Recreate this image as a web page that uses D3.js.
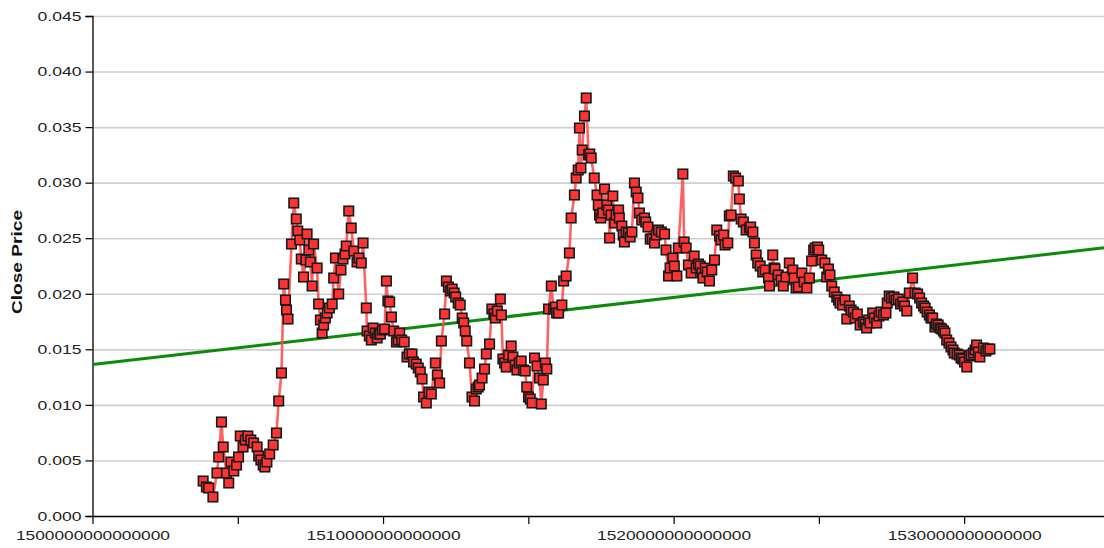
<!DOCTYPE html>
<html>
<head>
<meta charset="utf-8">
<script src="https://cdn.jsdelivr.net/npm/d3@7"></script>
<style>
  html, body { margin: 0; padding: 0; background: #fff; }
  svg { display: block; }
  text { font-family: "Liberation Sans", Arial, sans-serif; }
</style>
</head>
<body>
<svg id="chart" width="1104" height="548"></svg>
<script>
// ---- data ----
const startTime = 1503808000000000;      // first observation (microseconds)
const dayMicros = 86400000000;
const dayOffsets = [
0,1.3,2.2,3.9,5.5,6.2,7.3,8.0,9.3,10.2,11.1,12.2,13.3,14.1,14.8,15.9,16.8,17.8,19.0,20.1,
21.5,22.1,23.0,23.9,24.6,25.4,26.5,27.9,29.2,30.1,31.2,32.1,32.8,33.2,33.8,35.2,36.1,37.1,37.7,38.5,
39.1,40.0,40.9,41.4,42.1,42.7,43.4,44.0,45.4,46.0,46.7,47.4,48.0,48.7,49.4,50.3,51.4,52.0,52.7,54.0,
54.9,55.7,56.5,57.0,58.0,59.0,60.0,61.3,62.0,63.0,63.7,65.0,65.3,66.2,67.0,67.7,68.6,69.3,70.0,70.6,
71.4,72.3,73.0,73.6,74.3,75.0,75.9,77.0,77.7,78.3,79.1,80.1,81.2,82.1,83.2,83.8,84.9,85.7,86.5,87.2,
87.8,88.9,89.9,90.9,92.5,93.3,94.2,94.9,96.2,96.9,97.7,98.5,99.2,100.0,100.6,101.6,102.4,103.2,103.8,104.4,
105.0,106.1,107.1,108.1,108.8,109.6,110.1,111.1,112.1,112.8,114.1,115.0,115.8,116.4,117.2,118.4,118.8,119.4,120.1,120.7,
121.7,122.7,123.4,124.3,125.0,125.9,126.7,127.6,128.3,128.9,129.6,130.3,131.0,132.0,133.0,134.0,134.7,135.5,136.3,136.9,
137.6,138.7,139.6,140.3,140.8,141.6,142.9,143.6,144.6,145.9,146.6,147.9,148.6,149.4,149.9,150.5,151.0,151.9,152.6,153.5,
154.0,154.6,155.8,156.9,157.4,157.9,158.4,159.2,159.9,160.8,161.4,161.9,162.5,163.2,163.9,164.5,165.5,165.8,166.8,167.3,
167.8,168.5,169.4,170.1,170.8,171.8,172.5,173.2,173.8,174.7,175.8,176.3,177.2,178.1,178.9,179.8,180.5,181.4,182.5,183.8,
184.4,185.4,186.0,187.1,187.7,188.7,189.3,191.1,191.6,192.4,193.3,194.4,195.6,196.4,197.3,198.0,198.7,199.1,200.0,200.8,
201.7,202.6,203.7,204.6,205.7,206.3,207.3,207.9,209.0,209.6,210.3,211.2,212.1,213.2,213.6,214.3,215.2,216.3,217.6,218.1,
219.0,219.6,220.3,220.9,221.9,222.9,223.9,225.2,225.6,226.9,227.4,227.8,229.1,230.2,231.1,232.2,233.5,234.9,235.4,236.2,
237.1,238.5,239.4,240.5,241.5,242.4,243.2,243.8,244.7,245.2,246.4,247.7,248.4,249.1,249.7,250.4,251.4,252.4,253.1,253.7,
254.7,255.7,256.4,257.4,258.1,259.0,259.7,260.6,261.7,263.0,263.7,264.3,265.1,265.7,266.7,267.4,268.3,269.2,270.0,271.0,
272.0,272.5,273.3,274.2,275.2,276.0,276.9,277.8,278.7,279.4,280.3,281.3,282.6,283.6,284.6,285.4,286.2,287.0,287.6,288.4,
289.3,289.9,290.6,291.5,292.1,292.8,293.5,294.2,294.9,295.5,296.2,297.1,297.9,298.7,299.2,300.3,301.2,301.9,302.6,303.3,
304.2,305.2,305.9,306.8,307.5,308.1,308.8,309.4,310.8,311.8,312.6,313.4
];
const closePrices = [
0.00315,0.00261,0.00252,0.00171,0.00387,0.00531,0.00846,0.00621,0.00387,0.00297,0.00486,0.00405,0.00459,0.00531,0.0072,0.00621,0.00684,0.0072,0.00684,0.00657,
0.00621,0.0054,0.00504,0.00459,0.00441,0.00486,0.00558,0.00639,0.00747,0.01035,0.01287,0.02088,0.01944,0.01854,0.01773,0.02448,0.02817,0.02673,0.02565,0.02484,
0.02313,0.02151,0.02304,0.02538,0.02394,0.02286,0.0207,0.02448,0.02232,0.01908,0.01764,0.01647,0.01719,0.01782,0.01827,0.01872,0.01908,0.02142,0.02322,0.01998,
0.02214,0.02313,0.02358,0.0243,0.02745,0.02592,0.02385,0.02286,0.02322,0.02277,0.02457,0.01872,0.01665,0.0162,0.01584,0.01692,0.01647,0.01602,0.01638,0.01638,
0.01674,0.01683,0.02115,0.01935,0.01926,0.01791,0.01665,0.01566,0.01584,0.01647,0.01584,0.01566,0.01431,0.01458,0.01458,0.01386,0.01368,0.01332,0.01296,0.01233,
0.01071,0.01017,0.01116,0.01098,0.01377,0.01269,0.01197,0.01575,0.01818,0.02115,0.02061,0.02025,0.02043,0.02007,0.01971,0.01917,0.01899,0.01782,0.01737,0.01665,
0.01575,0.01377,0.01071,0.01035,0.01143,0.01161,0.01179,0.01242,0.01323,0.01458,0.01548,0.01863,0.01818,0.01782,0.01845,0.01953,0.01809,0.01413,0.01377,0.01341,
0.01449,0.0153,0.01431,0.01359,0.01314,0.01377,0.01395,0.01314,0.01305,0.01161,0.01071,0.01053,0.01017,0.01422,0.0135,0.01242,0.01008,0.01224,0.01377,0.01323,
0.01863,0.0207,0.01863,0.01881,0.01827,0.01827,0.01899,0.02115,0.0216,0.02367,0.02682,0.02889,0.03042,0.03114,0.03492,0.03132,0.03294,0.036,0.03762,0.03249,
0.03258,0.03222,0.03042,0.02889,0.02799,0.02709,0.02682,0.02727,0.02943,0.02799,0.02754,0.02502,0.02709,0.0288,0.02637,0.02709,0.02754,0.02682,0.0261,0.02529,
0.02466,0.02556,0.02547,0.02511,0.02556,0.02997,0.02916,0.02862,0.02727,0.02664,0.02682,0.02646,0.02601,0.02493,0.02493,0.02457,0.02529,0.02574,0.02556,0.02538,
0.02394,0.0216,0.02232,0.02322,0.0225,0.0216,0.02412,0.03078,0.02466,0.02412,0.02259,0.02187,0.0234,0.02232,0.02268,0.0225,0.02187,0.02142,0.02232,0.02196,
0.02115,0.02214,0.02304,0.02574,0.0252,0.02484,0.02529,0.02439,0.02457,0.027,0.02709,0.0306,0.03042,0.03015,0.02853,0.02673,0.02646,0.02574,0.02592,0.02601,
0.02556,0.02457,0.02349,0.02277,0.0225,0.02196,0.02214,0.02142,0.0207,0.02349,0.02232,0.02223,0.02169,0.02124,0.0207,0.02151,0.02277,0.02214,0.02142,0.02052,
0.02061,0.02187,0.02106,0.02052,0.02142,0.02295,0.02394,0.02412,0.02421,0.02394,0.02304,0.02277,0.02151,0.02223,0.02169,0.0207,0.02016,0.01971,0.01944,0.01917,
0.01899,0.01944,0.01773,0.0189,0.01854,0.01836,0.01782,0.01818,0.01719,0.01746,0.01728,0.01692,0.01764,0.01737,0.01827,0.01782,0.01737,0.018,0.01836,0.01809,
0.01827,0.01917,0.0198,0.01962,0.01971,0.01944,0.01953,0.01908,0.01926,0.0189,0.01845,0.02007,0.02142,0.02007,0.01998,0.01962,0.01917,0.0189,0.01872,0.01836,
0.01809,0.01782,0.01782,0.01701,0.01728,0.01719,0.01692,0.01683,0.01665,0.01647,0.01584,0.01557,0.01521,0.01494,0.01467,0.01458,0.01449,0.01422,0.01413,0.01386,
0.01341,0.0144,0.01449,0.01467,0.01494,0.01539,0.01476,0.01431,0.01512,0.01485,0.01503,0.01503
];
const xDomain = [1500000000000000, 1534813000000000];
const xMajorTicks = [1500000000000000, 1510000000000000, 1520000000000000, 1530000000000000];
const xMinorTicks = [1505000000000000, 1515000000000000, 1525000000000000];
const yTicks = [0, 0.005, 0.010, 0.015, 0.020, 0.025, 0.030, 0.035, 0.040, 0.045];
const trendValues = [0.013626, 0.024138];   // trend line at the two ends of the x domain
const yTitle = "Close Price";

// ---- layout ----
const plotLeft = 92.5, plotRight = 1104, plotTop = 16, plotBottom = 516;
const svg = d3.select("#chart");

const x = d3.scaleLinear().domain(xDomain).range([plotLeft, plotRight]);
const y = d3.scaleLinear().domain([0, 0.045]).range([plotBottom, plotTop]);

const series = dayOffsets.map((d, i) => ({ t: startTime + d * dayMicros, v: closePrices[i] }));

// gridlines
svg.append("g")
  .attr("transform", `translate(${plotLeft},0)`)
  .call(d3.axisLeft(y).tickValues(yTicks.filter(v => v > 0)).tickSize(-(plotRight - plotLeft)).tickFormat(""))
  .call(g => g.select(".domain").remove())
  .call(g => g.selectAll("line").attr("stroke", "#cfcfcf").attr("stroke-width", 1.6));

// y axis
const yAxis = svg.append("g")
  .attr("transform", `translate(${plotLeft},0)`)
  .call(d3.axisLeft(y).tickValues(yTicks).tickSize(7).tickPadding(4).tickFormat(d3.format(".3f")));
yAxis.select(".domain").attr("stroke", "#000").attr("stroke-width", 1.3);
yAxis.selectAll(".tick line").attr("stroke", "#000").attr("stroke-width", 1.2);
yAxis.selectAll("text")
  .attr("font-size", 13.5).attr("fill", "#222")
  .attr("textLength", 44).attr("lengthAdjust", "spacingAndGlyphs");

// x axis
const xAxis = svg.append("g")
  .attr("transform", `translate(0,${plotBottom})`)
  .call(d3.axisBottom(x).tickValues(xMajorTicks.concat(xMinorTicks)).tickSize(8).tickPadding(6)
    .tickSizeOuter(0)
    .tickFormat(d => xMajorTicks.includes(d) ? d3.format("d")(d) : ""));
xAxis.select(".domain").attr("stroke", "#000").attr("stroke-width", 1.3);
xAxis.selectAll(".tick line").attr("stroke", "#000").attr("stroke-width", 1.2);
xAxis.selectAll("text")
  .attr("font-size", 13.5).attr("fill", "#222")
  .filter(function() { return this.textContent !== ""; })
  .attr("textLength", 154).attr("lengthAdjust", "spacingAndGlyphs");

// y title
svg.append("text")
  .attr("transform", `translate(22,${(plotTop + plotBottom) / 2 - 4}) rotate(-90)`)
  .attr("text-anchor", "middle")
  .attr("font-size", 14).attr("font-weight", "bold").attr("fill", "#111")
  .attr("textLength", 104).attr("lengthAdjust", "spacingAndGlyphs")
  .text(yTitle);

// trend line
svg.append("line")
  .attr("x1", x(xDomain[0])).attr("y1", y(trendValues[0]))
  .attr("x2", x(xDomain[1])).attr("y2", y(trendValues[1]))
  .attr("stroke", "#0b8a0b").attr("stroke-width", 3);

// series line
svg.append("path")
  .datum(series)
  .attr("fill", "none")
  .attr("stroke", "#ff4646").attr("stroke-opacity", 0.85).attr("stroke-width", 2.6)
  .attr("d", d3.line().x(d => x(d.t)).y(d => y(d.v)));

// markers
const s = 9.5;
svg.append("g").selectAll("rect")
  .data(series).join("rect")
  .attr("x", d => x(d.t) - s / 2).attr("y", d => y(d.v) - s / 2)
  .attr("width", s).attr("height", s)
  .attr("fill", "#ff3333").attr("stroke", "#1a1a1a").attr("stroke-width", 1.6);
</script>
</body>
</html>
